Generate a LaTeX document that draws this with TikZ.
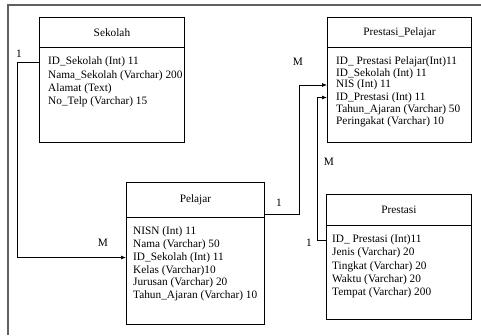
\documentclass[tikz,border=0pt]{standalone}
\usepackage{fontspec}
\setmainfont{Liberation Serif}
\newfontfamily\erdfont{Liberation Serif}
\usepackage{tikz}
\usetikzlibrary{arrows.meta}

\begin{document}
\begin{tikzpicture}[x=1pt,y=-1pt,font=\erdfont\fontsize{11.3}{13}\selectfont,
	title_node/.style={draw,line width=0.9pt,inner sep=0pt,anchor=north west,minimum height=30pt},
	body_node/.style={draw,line width=0.9pt,inner sep=0pt,anchor=north west},
	attr_node/.style={anchor=west,inner sep=0pt},
	card_node/.style={inner sep=0pt},
	link/.style={line width=0.7pt},
	frame/.style={line width=2pt,gray!75!black}]
\useasboundingbox (0,0) rectangle (481,335);
\draw[frame] (8,335) -- (8,5) -- (481,5);
% Sekolah
	\node[title_node,minimum width=145pt] (1) at (39,17) {Sekolah};
	\node[body_node,minimum width=145pt,minimum height=95pt] (2) at (39,47) {};
	\node[attr_node] (3) at (48,62) {ID\_Sekolah (Int) 11};
	\node[attr_node] (4) at (48,75.5) {Nama\_Sekolah (Varchar) 200};
	\node[attr_node] (5) at (48,89) {Alamat (Text)};
	\node[attr_node] (6) at (48,102) {No\_Telp (Varchar) 15};
% Pelajar
	\node[title_node,minimum width=138pt,minimum height=35pt] (11) at (126,182) {Pelajar};
	\node[body_node,minimum width=138pt,minimum height=107pt] (12) at (126,217) {};
	\node[attr_node] (13) at (133,232) {NISN (Int) 11};
	\node[attr_node] (14) at (133,245) {Nama (Varchar) 50};
	\node[attr_node] (15) at (133,257.5) {ID\_Sekolah (Int) 11};
	\node[attr_node] (16) at (133,270.5) {Kelas (Varchar)10};
	\node[attr_node] (17) at (133,283) {Jurusan (Varchar) 20};
	\node[attr_node] (18) at (133,296) {Tahun\_Ajaran (Varchar) 10};
% Prestasi_Pelajar
	\node[title_node,minimum width=144pt] (21) at (327,17) {Prestasi\_Pelajar};
	\node[body_node,minimum width=144pt,minimum height=95pt] (22) at (327,47) {};
	\node[attr_node] (23) at (336,61.5) {ID\_ Prestasi Pelajar(Int)11};
	\node[attr_node] (24) at (336,73.5) {ID\_Sekolah (Int) 11};
	\node[attr_node] (25) at (336,85) {NIS (Int) 11};
	\node[attr_node] (26) at (336,97.5) {ID\_Prestasi (Int) 11};
	\node[attr_node] (27) at (336,110) {Tahun\_Ajaran (Varchar) 50};
	\node[attr_node] (28) at (336,122) {Peringakat (Varchar) 10};
% Prestasi
	\node[title_node,minimum width=145pt,minimum height=31pt] (31) at (326,194) {Prestasi};
	\node[body_node,minimum width=145pt,minimum height=94pt] (32) at (326,225) {};
	\node[attr_node] (33) at (332,240) {ID\_ Prestasi (Int)11};
	\node[attr_node] (34) at (332,253) {Jenis (Varchar) 20};
	\node[attr_node] (35) at (332,266.5) {Tingkat (Varchar) 20};
	\node[attr_node] (36) at (332,280) {Waktu (Varchar) 20};
	\node[attr_node] (37) at (332,293) {Tempat (Varchar) 200};
% cardinalities
	\node[card_node] (41) at (19,54) {1};
	\node[card_node] (42) at (103,243) {M};
	\node[card_node] (43) at (279,203) {1};
	\node[card_node] (44) at (298,62) {M};
	\node[card_node] (45) at (329,162) {M};
	\node[card_node] (46) at (309,243) {1};
% bends
	\coordinate (c1) at (17,0);
	\coordinate (c2) at (299,0);
	\coordinate (c3) at (317,0);
	\coordinate (s2) at ([yshift=3.5pt]11.south east);
\draw[link,-{Latex[length=5pt,width=4pt]}] (3 -| 2.west) -- (3 -| c1) |- (15 -| 12.west);
\draw[link,-{Latex[length=5pt,width=4pt]}] (s2) -| (c2 |- 25) -- (25 -| 22.west);
\draw[link,-{Latex[length=5pt,width=4pt]}] (33 -| 32.west) -| (c3 |- 26) -- (26 -| 22.west);
\end{tikzpicture}
\end{document}
